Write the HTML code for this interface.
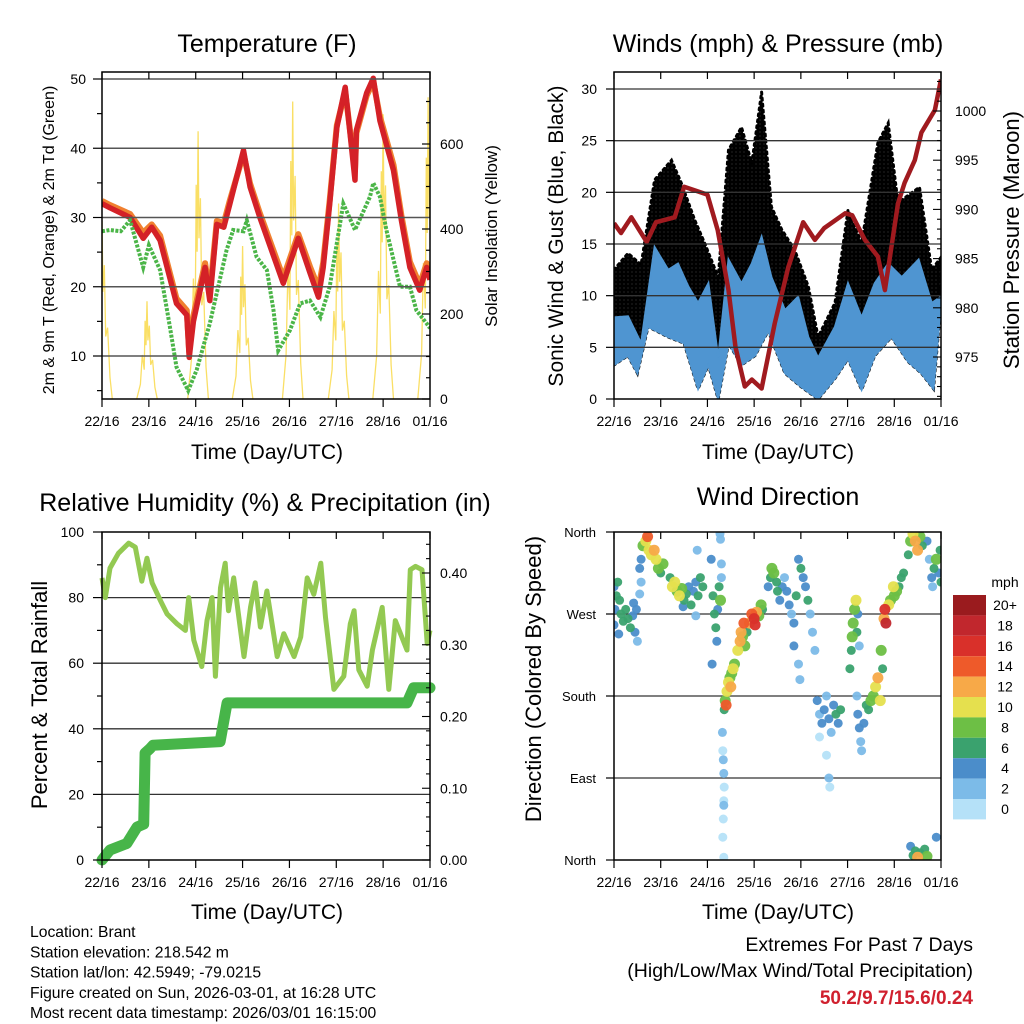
<!DOCTYPE html>
<html><head><meta charset="utf-8">
<style>
html,body{margin:0;padding:0;background:#fff;}
svg{display:block;font-family:"Liberation Sans",Arial,sans-serif;}
</style></head>
<body>
<svg id="c" width="1024" height="1024" viewBox="0 0 1024 1024" xmlns="http://www.w3.org/2000/svg">
<defs>
<pattern id="dots" width="4" height="4" patternUnits="userSpaceOnUse">
<rect width="4" height="4" fill="#222"/>
<circle cx="2" cy="2" r="2.2" fill="#000"/>
</pattern>
</defs>
</svg>
<script>
// ---------- DATA ----------
const tRedT = [0,0.17,0.6,0.88,1.06,1.24,1.59,1.81,1.86,1.95,2.2,2.3,2.45,2.6,2.73,3.02,3.16,3.37,3.87,4.19,4.44,4.62,4.72,4.86,5.01,5.19,5.4,5.43,5.65,5.79,5.93,6.22,6.39,6.57,6.78,6.93,7.0];
const tRedV = [32,31.4,30,27,28.6,26.7,17.6,15.9,9.8,15,22.8,18,29,28.6,32,39.7,34.4,30,20.5,27,22,18.5,22.8,32,43,48.8,35.4,42.6,48,50.1,44,36.8,29.6,22.8,19.5,22.8,21];
const tOrgV = [32.4,31.8,30.5,27.8,29,27.4,18.3,16.6,10.6,15.8,23.4,18.9,29.5,29.2,32.5,39.2,34.9,30.6,21.3,27.6,22.9,19.8,23.5,32.5,43.3,48.2,36.8,42.2,47.6,49.6,44.6,37.6,30.3,23.6,20.3,23.4,21.5];
const tDewT = [0,0.17,0.4,0.6,0.88,1.0,1.24,1.45,1.59,1.84,2.02,2.3,2.66,2.8,3.02,3.09,3.3,3.52,3.66,3.76,4.01,4.23,4.44,4.66,4.86,5.15,5.4,5.72,5.79,5.93,6.07,6.36,6.57,6.71,6.93,7.0];
const tDewV = [28,28.2,28,29.6,22.8,26,22.4,14.2,8.4,5,8,14.7,25.3,28.2,28,29.6,24.3,22.4,16.6,10.8,13.7,17.6,18,15.6,20,32,28.2,33,35,33,28.2,20,20,16.6,14.7,14];
const solarDay = [0.0,0.96,2.05,3.0,4.07,5.05,6.0,6.96];
const solarPeak = [420,230,630,360,700,460,670,710];
const windHiT = [0,0.3,0.58,0.87,1.16,1.37,1.59,1.8,2.02,2.23,2.45,2.73,2.95,3.16,3.37,3.66,3.94,4.16,4.37,4.73,5.01,5.3,5.58,5.87,6.16,6.52,6.8,7.0];
const windHiV = [7.9,8,5.4,14.7,12.5,13.1,10.9,9.3,11.2,4,13.5,11.2,13.1,15.7,11.8,8.6,9.9,6,4,7,11.2,7.9,11.2,13.1,11.8,13.5,9.3,9.9];
const windLoT = [0,0.3,0.5,0.73,1.16,1.5,1.8,2.02,2.23,2.45,2.73,3.02,3.3,3.66,4.0,4.37,4.73,5.01,5.3,5.58,5.94,6.3,6.58,6.84,7.0];
const windLoV = [3.3,4.2,2.5,7,6,5.4,1,3.3,0,5.4,3.3,4.2,6.6,2.5,1.2,0,2,3.9,0.9,4.2,6,3.6,2.5,1,9.3];
const gustT = [0,0.3,0.58,0.87,1.23,1.44,1.73,1.94,2.23,2.45,2.73,2.95,3.16,3.37,3.59,3.87,4.16,4.37,4.73,5.01,5.3,5.65,5.87,6.08,6.54,6.8,7.0];
const gustV = [12.5,14.1,13,21.2,23.1,20.9,17.3,15.1,11.8,24.1,26.3,22.8,29.7,18.6,16.4,14.4,10.9,6,9.3,18.3,15.1,24.8,26.7,19,20.5,12.5,13.7];
const presT = [0,0.15,0.37,0.7,0.9,1.3,1.5,2.0,2.22,2.45,2.6,2.8,2.95,3.16,3.44,3.73,4.05,4.3,4.5,4.95,5.1,5.37,5.65,5.8,6.08,6.22,6.44,6.58,6.87,7.0];
const presV = [988.6,987.6,989.2,986.7,988.7,989.2,992.3,991.5,987.9,981.8,976,972,972.7,971.8,978.4,984.1,988.7,986.9,988.1,989.6,989.4,986.9,985.2,981.8,990.6,992.7,995,997.8,1000.1,1003.2];
const rhT = [0,0.07,0.17,0.35,0.57,0.71,0.85,0.96,1.07,1.25,1.39,1.6,1.78,1.85,1.96,2.13,2.24,2.35,2.42,2.53,2.63,2.7,2.81,3.03,3.17,3.27,3.38,3.52,3.74,3.88,4.1,4.24,4.38,4.52,4.67,4.77,4.95,5.16,5.3,5.38,5.48,5.66,5.77,5.98,6.12,6.26,6.51,6.58,6.69,6.83,6.94,7.0];
const rhV = [86,80,89,93.5,96.6,95.4,85,92,84.5,79,75,72,70,80,67,59,73,80,56,83,90.5,76,86,62,77,84.5,71,82,62,69,62,68,86,81,90.5,74,52,56,72,76,58,53,64,77,52,73,64,88.5,89.5,88.5,66,70];
const rainT = [0,0.17,0.53,0.75,0.89,0.92,1.02,1.09,2.52,2.67,6.51,6.65,7.0];
const rainV = [0,0.014,0.023,0.046,0.05,0.149,0.155,0.16,0.165,0.219,0.219,0.24,0.24];
const wdT = [0,0.02,0.05,0.08,0.12,0.15,0.2,0.25,0.3,0.35,0.4,0.45,0.48,0.5,0.42,0,0.1,
0.55,0.58,0.62,0.68,0.72,0.75,0.8,0.86,0.9,0.95,1.0,1.05,0.58,0.55,
1.2,1.25,1.3,1.35,1.4,1.45,1.5,1.55,1.6,1.65,1.7,1.75,1.8,1.85,1.9,1.48,1.75,1.78,
2.08,2.12,2.15,2.18,2.2,2.22,2.25,2.28,2.3,2.1,2.3,2.27,2.28,
2.32,2.33,2.34,2.35,2.36,2.35,2.34,2.33,2.35,2.35,
2.36,2.38,2.4,2.42,2.45,2.48,2.5,2.52,2.55,2.58,
2.65,2.7,2.72,2.75,2.8,2.85,2.9,2.95,3.0,3.02,3.05,3.1,3.15,3.18,2.78,
3.3,3.35,3.38,3.42,3.48,3.5,3.55,3.6,3.65,3.7,3.75,3.8,3.85,3.9,3.95,4.0,4.05,4.1,4.15,4.2,4.25,4.3,3.85,3.95,3.98,
4.35,4.4,4.45,4.5,4.55,4.6,4.65,4.7,4.75,4.8,4.85,4.4,4.55,4.6,4.62,
5.05,5.08,5.1,5.12,5.15,5.18,5.2,5.22,5.25,
5.2,5.22,5.25,5.28,5.3,5.35,5.4,5.45,5.5,5.55,5.6,5.65,5.7,
5.72,5.75,5.78,5.8,5.82,5.88,5.92,6.0,6.05,6.1,6.15,6.2,5.98,
6.3,6.35,6.4,6.45,6.5,6.55,6.6,6.7,6.75,
6.8,6.82,6.85,6.9,6.95,6.98,7.0,
6.35,6.4,6.45,6.5,6.55,6.65,6.7,6.9];
const wdDir = [300,275,290,305,285,270,262,275,265,255,268,250,275,240,282,258,248,
320,330,345,350,355,340,335,340,330,320,315,325,305,292,
310,300,305,295,290,298,285,292,300,280,295,305,290,310,300,278,268,340,
330,290,270,255,240,275,300,285,310,215,325,358,352,
140,120,110,95,80,60,45,25,3,65,
165,175,170,185,195,200,190,205,210,215,
230,240,250,245,235,250,260,270,265,258,272,268,280,275,260,
300,310,320,315,305,295,285,300,310,295,280,270,260,290,330,320,310,300,285,270,250,230,235,215,198,
175,160,150,165,180,155,140,170,160,150,165,135,115,90,80,
210,230,245,260,275,285,250,270,235,
180,160,145,130,120,150,170,165,175,180,190,200,175,
230,210,265,275,260,280,285,290,295,300,310,315,300,
335,350,358,350,340,355,345,350,330,
310,300,320,330,315,340,305,
15,5,10,3,8,12,4,25];
const wdSpd = [4,5,6,7,6,7,6,7,6,7,5,4,4,3,4,5,4,
4,5,8,10,14,10,11,12,11,9,7,8,3,2,
6,10,11,9,10,8,7,6,5,6,4,5,7,7,6,4,2,2,
5,6,7,6,5,5,6,8,2,4,2,2,3,
2,1,2,3,1,2,1,1,0,1,
7,9,14,11,10,9,12,8,10,8,
10,12,13,9,8,7,12,15,17,16,13,8,9,7,14,
5,6,9,8,6,7,5,4,3,5,4,3,4,6,5,7,5,4,6,3,2,2,4,3,3,
4,2,4,4,3,4,3,5,6,4,6,1,1,3,1,
6,7,8,9,8,10,6,5,3,
3,4,4,3,2,5,7,7,8,9,10,12,10,
9,6,13,16,18,10,9,9,8,7,6,6,10,
6,8,10,12,12,9,6,5,3,
4,3,6,8,5,6,6,
5,7,6,12,6,7,8,5];
const cbLabels = ["20+","18","16","14","12","10","8","6","4","2","0"];
const cbColors = ["#9a1b1e","#c1272d","#d9302a","#ee5a2a","#f7a948","#e5e04e","#6dbf45","#3aa26e","#4b8dca","#7cbbe8","#b5e1f8"];

// ---------- HELPERS ----------
const svg = document.getElementById('c');
const NS = 'http://www.w3.org/2000/svg';
function el(tag, attrs, parent){ const e=document.createElementNS(NS,tag); for(const k in attrs) e.setAttribute(k,attrs[k]); (parent||svg).appendChild(e); return e; }
function txt(s,x,y,size,anchor,parent,extra){ const e=el('text',Object.assign({x:x,y:y,'font-size':size,'text-anchor':anchor||'middle',fill:'#000'},extra||{}),parent); e.textContent=s; return e; }
function lin(d0,d1,p0,p1){ return v=>p0+(v-d0)*(p1-p0)/(d1-d0); }
function path(xs,ys,X,Y){ return xs.map((t,i)=>(i?'L':'M')+X(t).toFixed(1)+','+Y(ys[i]).toFixed(1)).join(''); }
function colorFor(s){ return cbColors[10-Math.min(10,Math.floor(s/2))]; }
const dayLabels=["22/16","23/16","24/16","25/16","26/16","27/16","28/16","01/16"];

function frame(g,x0,y0,x1,y1,X){
  el('rect',{x:x0,y:y0,width:x1-x0,height:y1-y0,fill:'none',stroke:'#000','stroke-width':1.5},g);
  for(let d=0;d<=7;d++){
    const x=X(d);
    el('line',{x1:x,y1:y1,x2:x,y2:y1+8,stroke:'#000','stroke-width':1.2},g);
    el('line',{x1:x,y1:y0,x2:x,y2:y0+7,stroke:'#000','stroke-width':1.2},g);
    const t=txt(dayLabels[d],x,y1+27,14,'middle',g);
    
    
  }
}

// ---------- TEMPERATURE ----------
(function(){
  const g=el('g',{});
  
  
  const x0=102,x1=430,y0=72,y1=399;
  const X=lin(0,7,x0,x1), Y=lin(10,50,356,79), YS=lin(0,600,399,144);
  const cp=el('clipPath',{id:'cpT'},g); el('rect',{x:x0,y:y0,width:x1-x0,height:y1-y0},cp);
  const d=el('g',{'clip-path':'url(#cpT)'},g);
  solarDay.forEach((c,i)=>{
    const p=solarPeak[i];
    const xs=[c-0.22,c-0.14,c-0.1,c-0.06,c-0.04,c-0.02,c,c+0.02,c+0.05,c+0.08,c+0.12,c+0.17,c+0.22];
    const ys=[0,p*0.15,p*0.45,p*0.3,p*0.8,p*0.55,p,p*0.6,p*0.75,p*0.35,p*0.4,p*0.12,0];
    const s=el('path',{d:path(xs,ys,X,YS),fill:'none',stroke:'#f9d94a','stroke-width':1.3,opacity:0.85},d);
    
    
  });
  [10,20,30,40,50].forEach(v=>{ el('line',{x1:x0,x2:x1,y1:Y(v),y2:Y(v),stroke:'#555','stroke-width':1.5},g); });
  const o=el('path',{d:path(tRedT,tOrgV,X,Y),fill:'none',stroke:'#f08030','stroke-width':6,'stroke-linejoin':'round'},d);
  
  
  const r=el('path',{d:path(tRedT,tRedV,X,Y),fill:'none',stroke:'#d42127','stroke-width':5.5,'stroke-linejoin':'round'},d);
  
  
  const gr=el('path',{d:path(tDewT,tDewV,X,Y),fill:'none',stroke:'#4bb548','stroke-width':4,'stroke-dasharray':'3 1.5'},d);
  
  
  frame(g,x0,y0,x1,y1,X);
  for(let v=5;v<=50;v+=5){ el('line',{x1:x0-(v%10?5:9),x2:x0,y1:Y(v),y2:Y(v),stroke:'#000','stroke-width':1.2},g); if(v%10==0) txt(String(v),86,Y(v)+5,14,'end',g); }
  for(let v=0;v<=700;v+=50){ el('line',{x1:x1-(v%200?4:8),x2:x1,y1:YS(v),y2:YS(v),stroke:'#000','stroke-width':1.2},g); if(v%200==0) txt(String(v),440,YS(v)+5,14,'start',g); }
  const ti=txt('Temperature (F)',267,52,25,'middle',g);  
  txt('Time (Day/UTC)',267,459,21,'middle',g);
  txt('2m & 9m T (Red, Orange) & 2m Td (Green)',54,240,16,'middle',g,{transform:'rotate(-90 54 240)'});
  txt('Solar Insolation (Yellow)',497,236,17,'middle',g,{transform:'rotate(-90 497 236)'});
})();

// ---------- WINDS ----------
(function(){
  const g=el('g',{});
  
  
  const x0=614,x1=941,y0=72,y1=399;
  const X=lin(0,7,x0,x1), Y=lin(0,30,399,89), YP=lin(975,1000,357,111);
  const cp=el('clipPath',{id:'cpW'},g); el('rect',{x:x0,y:y0,width:x1-x0,height:y1-y0},cp);
  const d=el('g',{'clip-path':'url(#cpW)'},g);
  [5,10,15,20,25,30].forEach(v=>{ el('line',{x1:x0,x2:x1,y1:Y(v),y2:Y(v),stroke:'#333','stroke-width':1.3},g); });
  const gp=path(gustT,gustV,X,Y)+path(windLoT.slice().reverse(),windLoV.slice().reverse(),X,Y).replace('M','L')+'Z';
  const gu=el('path',{d:gp,fill:'url(#dots)',stroke:'#000','stroke-width':3,'stroke-dasharray':'2 4','stroke-linecap':'round'},d);
  
  
  const bp=path(windHiT,windHiV,X,Y)+path(windLoT.slice().reverse(),windLoV.slice().reverse(),X,Y).replace('M','L')+'Z';
  const bl=el('path',{d:bp,fill:'#4f95d1',stroke:'#4f95d1','stroke-width':2},d);
  
  
  const p=el('path',{d:path(presT,presV,X,YP),fill:'none',stroke:'#a01a1f','stroke-width':4.5,'stroke-linejoin':'round'},d);
  
  
  frame(g,x0,y0,x1,y1,X);
  for(let v=0;v<=30;v+=5){ el('line',{x1:x0-8,x2:x0,y1:Y(v),y2:Y(v),stroke:'#000','stroke-width':1.2},g); txt(String(v),597,Y(v)+5,14,'end',g); }
  for(let v=971;v<=1003;v+=1){ el('line',{x1:x1-(v%5?4:8),x2:x1,y1:YP(v),y2:YP(v),stroke:'#000','stroke-width':1.1},g); if(v%5==0) txt(String(v),955,YP(v)+5,14,'start',g); }
  const ti=txt('Winds (mph) & Pressure (mb)',778,52,25,'middle',g);  
  txt('Time (Day/UTC)',778,459,21,'middle',g);
  txt('Sonic Wind & Gust (Blue, Black)',563,236,21,'middle',g,{transform:'rotate(-90 563 236)'});
  txt('Station Pressure (Maroon)',1019,240,22,'middle',g,{transform:'rotate(-90 1019 240)'});
})();

// ---------- RH ----------
(function(){
  const g=el('g',{});
  
  
  const x0=102,x1=430,y0=532,y1=860;
  const X=lin(0,7,x0,x1), Y=lin(0,100,860,532), YR=lin(0,0.4,860,573);
  [20,40,60,80].forEach(v=>{ el('line',{x1:x0,x2:x1,y1:Y(v),y2:Y(v),stroke:'#333','stroke-width':1.3},g); });
  const cp=el('clipPath',{id:'cpR'},g); el('rect',{x:x0-8,y:y0,width:x1-x0+16,height:y1-y0+8},cp);
  const d=el('g',{'clip-path':'url(#cpR)'},g);
  const h=el('path',{d:path(rhT,rhV,X,Y),fill:'none',stroke:'#93c952','stroke-width':5,'stroke-linejoin':'round'},d);
  
  
  const r=el('path',{d:path(rainT,rainV,X,YR),fill:'none',stroke:'#47b549','stroke-width':11,'stroke-linejoin':'round','stroke-linecap':'round'},d);
  
  
  frame(g,x0,y0,x1,y1,X);
  for(let v=0;v<=100;v+=10){ el('line',{x1:x0-(v%20?5:9),x2:x0,y1:Y(v),y2:Y(v),stroke:'#000','stroke-width':1.2},g); if(v%20==0) txt(String(v),84,Y(v)+5,14,'end',g); }
  for(let i=0;i<=22;i++){ const v=i*0.02; if(YR(v)<y0) break; el('line',{x1:x1-(i%5?4:8),x2:x1,y1:YR(v),y2:YR(v),stroke:'#000','stroke-width':1.1},g); if(i%5==0) txt(v.toFixed(2),440,YR(v)+5,14,'start',g); }
  const ti=txt('Relative Humidity (%) & Precipitation (in)',265,511,25,'middle',g);  
  txt('Time (Day/UTC)',267,919,21,'middle',g);
  txt('Percent & Total Rainfall',47,695,22,'middle',g,{transform:'rotate(-90 47 695)'});
})();

// ---------- WIND DIRECTION ----------
(function(){
  const g=el('g',{});
  
  
  const x0=614,x1=941,y0=532,y1=860;
  const X=lin(0,7,x0,x1), Y=lin(0,360,860,532);
  [90,180,270].forEach(v=>{ el('line',{x1:x0,x2:x1,y1:Y(v),y2:Y(v),stroke:'#333','stroke-width':1.3},g); });
  const cp=el('clipPath',{id:'cpD'},g); el('rect',{x:x0,y:y0,width:x1-x0,height:y1-y0},cp);
  const d=el('g',{'clip-path':'url(#cpD)'},g);
  const order=wdSpd.map((s,i)=>i).sort((a,b)=>wdSpd[a]-wdSpd[b]);
  order.forEach(i=>{
    const c=el('circle',{cx:X(wdT[i]).toFixed(1),cy:Y(wdDir[i]).toFixed(1),r:wdSpd[i]>=8?5.5:4.5,fill:colorFor(wdSpd[i]),opacity:0.95},d);
    
    
  });
  frame(g,x0,y0,x1,y1,X);
  const names=["North","East","South","West","North"];
  [0,90,180,270,360].forEach((v,i)=>{ el('line',{x1:x0-8,x2:x0,y1:Y(v),y2:Y(v),stroke:'#000','stroke-width':1.2},g); txt(names[i],596,Y(v)+5,13,'end',g); });
  const ti=txt('Wind Direction',778,505,25,'middle',g);  
  txt('Time (Day/UTC)',778,919,21,'middle',g);
  txt('Direction (Colored By Speed)',541,679,22,'middle',g,{transform:'rotate(-90 541 679)'});
  const cb=el('g',{},g);
  
  
  txt('mph',1005,587,14,'middle',cb);
  cbLabels.forEach((lab,i)=>{
    const r=el('rect',{x:953,y:595+i*20.4,width:33,height:20.4,fill:cbColors[i]},cb);
    
    
    txt(lab,1005,610+i*20.4,14,'middle',cb);
  });
})();

// ---------- FOOTER ----------
(function(){
  const g=el('g',{});
  
  
  ["Location: Brant","Station elevation: 218.542 m","Station lat/lon: 42.5949; -79.0215","Figure created on Sun, 2026-03-01, at 16:28 UTC","Most recent data timestamp: 2026/03/01 16:15:00"].forEach((s,i)=>txt(s,30,937+i*20.3,15.7,'start',g));
  const h=el('g',{});
  
  
  txt('Extremes For Past 7 Days',973,951,19.5,'end',h);
  txt('(High/Low/Max Wind/Total Precipitation)',973,977,19.5,'end',h);
  txt('50.2/9.7/15.6/0.24',973,1004,19,'end',h,{fill:'#d0202e','font-weight':'bold'});
})();
</script>
</body></html>
